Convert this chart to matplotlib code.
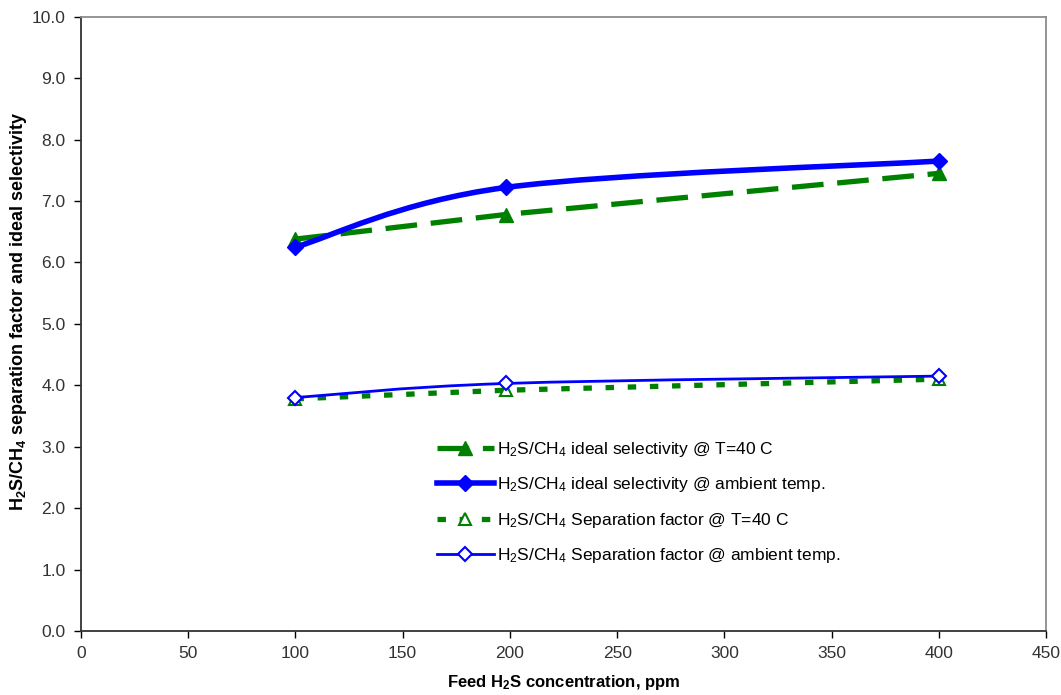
import numpy as np
import matplotlib
matplotlib.use('Agg')
import matplotlib.pyplot as plt
from matplotlib.path import Path
from matplotlib.patches import PathPatch
from matplotlib.lines import Line2D

plt.rcParams['font.family'] = ['Liberation Sans', 'DejaVu Sans']
plt.rcParams['mathtext.fontset'] = 'custom'
plt.rcParams['mathtext.rm'] = 'Liberation Sans'
plt.rcParams['mathtext.it'] = 'Liberation Sans'
plt.rcParams['mathtext.bf'] = 'Liberation Sans:bold'

# feed concentration (ppm)
feed_ppm = [100, 198, 400]

ideal_40c = [6.38, 6.78, 7.45]
ideal_ambient = [6.25, 7.22, 7.65]
sep_40c = [3.78, 3.92, 4.10]
sep_ambient = [3.80, 4.03, 4.15]

labels = [
    'H$_2$S/CH$_4$ ideal selectivity @ T=40 C',
    'H$_2$S/CH$_4$ ideal selectivity @ ambient temp.',
    'H$_2$S/CH$_4$ Separation factor @ T=40 C',
    'H$_2$S/CH$_4$ Separation factor @ ambient temp.',
]

GREEN = '#008000'
BLUE = '#0000ff'


def smooth_path(x, y):
    # Catmull-Rom style bezier through the points (like a spreadsheet "smoothed line")
    x = np.asarray(x, float)
    y = np.asarray(y, float)
    n = len(x)
    verts = [(x[0], y[0])]
    codes = [Path.MOVETO]
    t = 1.0 / 6.0
    for i in range(n - 1):
        p0 = (x[max(i - 1, 0)], y[max(i - 1, 0)])
        p1 = (x[i], y[i])
        p2 = (x[i + 1], y[i + 1])
        p3 = (x[min(i + 2, n - 1)], y[min(i + 2, n - 1)])
        c1 = (p1[0] + (p2[0] - p0[0]) * t, p1[1] + (p2[1] - p0[1]) * t)
        c2 = (p2[0] - (p3[0] - p1[0]) * t, p2[1] - (p3[1] - p1[1]) * t)
        verts += [c1, c2, p2]
        codes += [Path.CURVE4] * 3
    return Path(verts, codes)


fig = plt.figure(figsize=(10.61, 6.95), dpi=100)
ax = fig.add_axes([0.0763, 0.092, 0.9097, 0.884])

# ideal selectivity
ax.plot(feed_ppm, ideal_40c, color=GREEN, lw=3.8, dashes=(6, 2.6),
        marker='^', ms=10, mfc=GREEN, mec=GREEN, zorder=3)
ax.add_patch(PathPatch(smooth_path(feed_ppm, ideal_ambient), fill=False,
                       ec=BLUE, lw=4.0, capstyle='round', zorder=4))
ax.plot(feed_ppm, ideal_ambient, ls='none', marker='D', ms=8.5,
        mfc=BLUE, mec=BLUE, zorder=5)

# separation factor
ax.plot(feed_ppm, sep_40c, color=GREEN, lw=3.8, dashes=(1.6, 2.6),
        marker='^', ms=9, mfc='white', mec=GREEN, mew=1.5, zorder=3)
ax.add_patch(PathPatch(smooth_path(feed_ppm, sep_ambient), fill=False,
                       ec=BLUE, lw=2.0, zorder=4))
ax.plot(feed_ppm, sep_ambient, ls='none', marker='D', ms=7.5,
        mfc='white', mec=BLUE, mew=1.5, zorder=5)

ax.set_xlim(0, 450)
ax.set_ylim(0, 10)
ax.set_xticks(np.arange(0, 451, 50))
ax.set_yticks(np.arange(0, 10.1, 1))
ax.set_yticklabels(['%.1f' % v for v in np.arange(0, 10.1, 1)])
ax.tick_params(direction='out', length=5, width=1, labelsize=12.5,
               labelcolor='#333333', pad=6)

for side in ('top', 'right'):
    ax.spines[side].set_color('#8c8c8c')
    ax.spines[side].set_linewidth(1.3)
for side in ('left', 'bottom'):
    ax.spines[side].set_color('#333333')
    ax.spines[side].set_linewidth(1.3)

ax.set_xlabel('Feed H$_\\mathbf{2}$S concentration, ppm', fontsize=12,
              fontweight='bold')
ax.set_ylabel('H$_\\mathbf{2}$S/CH$_\\mathbf{4}$ separation factor and ideal selectivity',
              fontsize=13, fontweight='bold')
ax.xaxis.set_label_coords(0.5, -0.068)
ax.yaxis.set_label_coords(-0.054, 0.52)

handles = [
    Line2D([], [], color=GREEN, lw=3.8, dashes=(6, 2.6), marker='^', ms=10,
           mfc=GREEN, mec=GREEN),
    Line2D([], [], color=BLUE, lw=4.0, marker='D', ms=8.5, mfc=BLUE, mec=BLUE),
    Line2D([], [], color=GREEN, lw=3.8, dashes=(1.6, 2.6), marker='^', ms=9,
           mfc='white', mec=GREEN, mew=1.5),
    Line2D([], [], color=BLUE, lw=2.0, marker='D', ms=7.5, mfc='white',
           mec=BLUE, mew=1.5),
]
ax.legend(handles, labels, loc='upper left', bbox_to_anchor=(0.3525, 0.337),
          frameon=False, fontsize=12.5, handlelength=3.3, handletextpad=0.15,
          labelspacing=0.95, numpoints=1)

fig.savefig('out.png', dpi=100)
